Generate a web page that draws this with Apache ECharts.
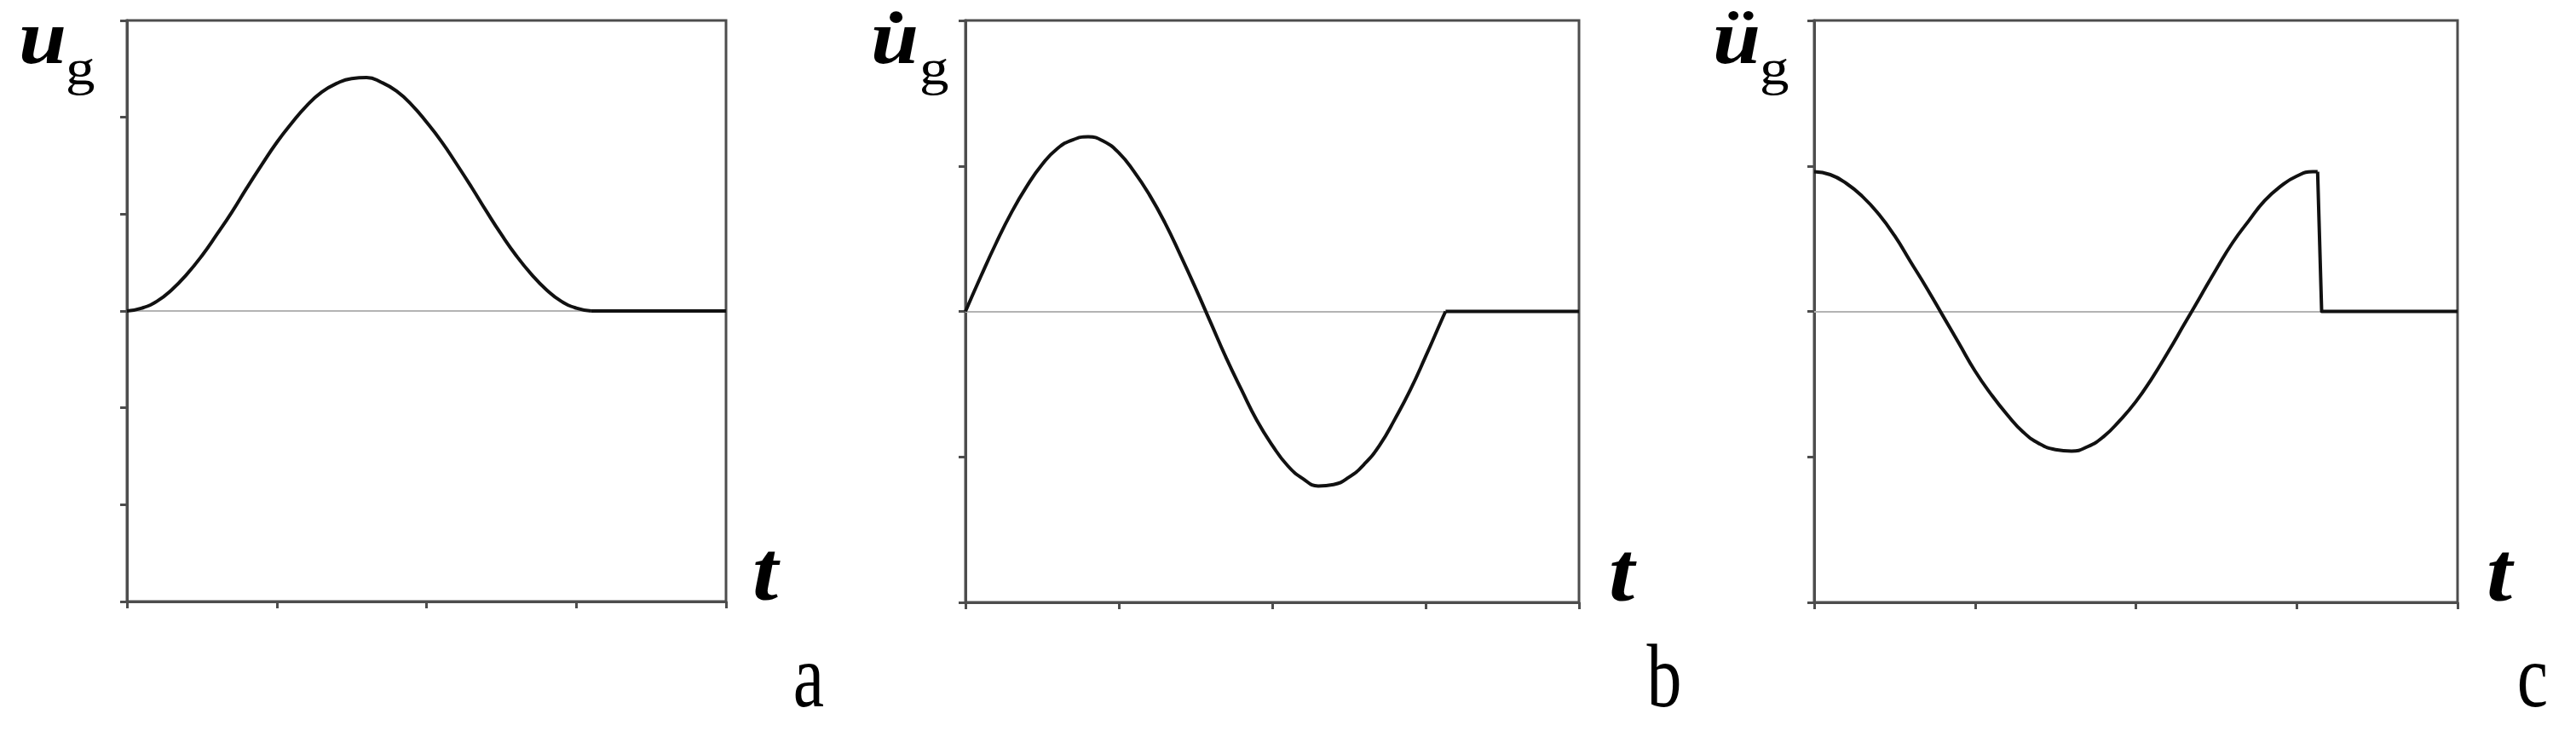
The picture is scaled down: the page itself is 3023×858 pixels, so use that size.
<!DOCTYPE html>
<html>
<head>
<meta charset="utf-8">
<title>u_g, du_g, ddu_g pulse</title>
<script src="https://cdn.jsdelivr.net/npm/echarts@6/dist/echarts.min.js"></script>
<style>
  html, body { margin: 0; padding: 0; background: #fff; }
  #chart { width: 3023px; height: 858px; }
</style>
</head>
<body>
<div id="chart"></div>
<script>
// ---- data ----
// a: displacement
const timeA = [0, 0.1, 0.2, 0.3, 0.4, 0.5, 0.6, 0.7, 0.8, 0.9, 1.0, 1.1, 1.2, 1.3, 1.4, 1.5,
  1.6, 1.7, 1.8, 1.9, 2.0, 2.1, 2.2, 2.3, 2.4, 2.5, 2.6, 2.7, 2.8, 2.9, 3.0, 3.1, 4];
const dispA = [0, 0.03, 0.10, 0.22, 0.38, 0.57, 0.79, 1.02, 1.27, 1.51, 1.74, 1.94, 2.12, 2.26, 2.35, 2.40,
  2.41, 2.36, 2.27, 2.13, 1.95, 1.75, 1.52, 1.28, 1.03, 0.79, 0.57, 0.38, 0.22, 0.10, 0.03, 0, 0];

// b: velocity
const timeB = [0, 0.1, 0.2, 0.3, 0.4, 0.5, 0.6, 0.7, 0.8, 0.9, 1.0, 1.1, 1.2, 1.3, 1.4, 1.5,
  1.6, 1.7, 1.8, 1.9, 2.0, 2.1, 2.2, 2.3, 2.4, 2.5, 2.6, 2.7, 2.8, 2.9, 3.0, 3.1, 3.13, 4];
const velB = [0, 0.24, 0.47, 0.68, 0.86, 1.01, 1.12, 1.18, 1.20, 1.17, 1.09, 0.96, 0.80, 0.61, 0.39, 0.16,
  -0.08, -0.32, -0.54, -0.75, -0.92, -1.06, -1.15, -1.20, -1.19, -1.14, -1.05, -0.92, -0.74, -0.54, -0.31, -0.07, 0, 0];

// c: acceleration
const timeC = [0, 0.1, 0.2, 0.3, 0.4, 0.5, 0.6, 0.7, 0.8, 0.9, 1.0, 1.1, 1.2, 1.3, 1.4, 1.5,
  1.6, 1.7, 1.8, 1.9, 2.0, 2.1, 2.2, 2.3, 2.4, 2.5, 2.6, 2.7, 2.8, 2.9, 3.0, 3.1, 3.13, 3.155, 4];
const accC = [0.96, 0.94, 0.88, 0.79, 0.67, 0.52, 0.34, 0.16, -0.03, -0.22, -0.41, -0.57, -0.71, -0.83, -0.91, -0.95,
  -0.96, -0.93, -0.86, -0.75, -0.62, -0.46, -0.28, -0.09, 0.10, 0.29, 0.47, 0.62, 0.76, 0.86, 0.93, 0.96, 0.96, 0, 0];

// index of the last sample of the smooth pulse; after it the trace is straight
const pulseEnd = [31, 32, 32];

// axis ranges (no tick labels shown)
const xRange = [0, 4];
const yRanges = [[-3, 3], [-2, 2], [-2, 2]];

const yNames = ['u', 'u\u0307', '\u00fc'];
const subName = 'g';
const xName = 't';
const panelNames = ['a', 'b', 'c'];

// ---- layout ----
const panels = [
  { left: 149, top: 24, width: 703, height: 682, uDx: -127, gDx: -72, tDx: 31, letterDx: 97 },
  { left: 1133, top: 24, width: 720, height: 683, uDx: -111, gDx: -54, tDx: 35, letterDx: 100 },
  { left: 2129, top: 24, width: 755, height: 683, uDx: -119, gDx: -64, tDx: 34, letterDx: 88 }
];

const seriesData = [
  timeA.map((t, i) => [t, dispA[i]]),
  timeB.map((t, i) => [t, velB[i]]),
  timeC.map((t, i) => [t, accC[i]])
];

const axisColor = '#4d4d4d';
const curveColor = '#111';
const serif = 'Liberation Serif';

// text is drawn with a "middle" baseline, shift so that y is the alphabetic baseline
function baseY(b, fs) { return b - 0.3 * fs; }

function textEl(text, x, y, fs, weight, style, align, sx) {
  return {
    type: 'text',
    x: x,
    y: baseY(y, fs),
    scaleX: sx || 1,
    silent: true,
    style: {
      text: text,
      x: 0,
      y: 0,
      fontFamily: serif,
      fontSize: fs,
      fontWeight: weight,
      fontStyle: style,
      fill: '#000',
      align: align,
      verticalAlign: 'middle'
    }
  };
}

const chart = echarts.init(document.getElementById('chart'), null, { renderer: 'canvas' });

const grids = [], xAxes = [], yAxes = [], series = [], labels = [];

panels.forEach((p, i) => {
  grids.push({
    left: p.left, top: p.top, width: p.width, height: p.height,
    show: true, borderColor: axisColor, borderWidth: 3, backgroundColor: 'transparent'
  });
  xAxes.push({
    gridIndex: i, type: 'value', min: xRange[0], max: xRange[1], interval: 1,
    axisLine: { show: true, onZero: false, lineStyle: { color: axisColor, width: 3 } },
    axisTick: { show: true, inside: false, length: 8, lineStyle: { color: axisColor, width: 3 } },
    axisLabel: { show: false },
    splitLine: { show: false }
  });
  yAxes.push({
    gridIndex: i, type: 'value', min: yRanges[i][0], max: yRanges[i][1], interval: 1,
    axisLine: { show: true, onZero: false, lineStyle: { color: axisColor, width: 3 } },
    axisTick: { show: true, inside: false, length: 8, lineStyle: { color: axisColor, width: 3 } },
    axisLabel: { show: false },
    splitLine: { show: false }
  });

  // smooth pulse
  series.push({
    type: 'line', xAxisIndex: i, yAxisIndex: i,
    data: seriesData[i].slice(0, pulseEnd[i] + 1),
    showSymbol: false, symbol: 'none',
    smooth: 0.5,
    lineStyle: { color: curveColor, width: 4 },
    z: 3,
    markLine: {
      silent: true, symbol: 'none', z: 1, animation: false,
      label: { show: false },
      lineStyle: { color: '#b3b3b3', width: 2, type: 'solid' },
      data: [{ yAxis: 0 }]
    }
  });
  // straight tail (jump and rest)
  series.push({
    type: 'line', xAxisIndex: i, yAxisIndex: i,
    data: seriesData[i].slice(pulseEnd[i]),
    showSymbol: false, symbol: 'none',
    lineStyle: { color: curveColor, width: 4, join: 'round' },
    z: 3
  });

  const right = p.left + p.width;
  const bottom = p.top + p.height;
  labels.push(textEl(yNames[i], p.left + p.uDx, 78, 90, 'bold', 'italic', 'left', 1.12));
  labels.push(textEl(subName, p.left + p.gDx, 101, 60, 'normal', 'normal', 'left', 1.15));
  labels.push(textEl(xName, right + p.tDx, bottom + 2, 100, 'bold', 'italic', 'left', 1.08));
  labels.push(textEl(panelNames[i], right + p.letterDx, 833, 105, 'normal', 'normal', 'center', 0.78));
});

chart.setOption({
  animation: false,
  backgroundColor: '#fff',
  grid: grids,
  xAxis: xAxes,
  yAxis: yAxes,
  series: series,
  graphic: { elements: labels }
});

window.addEventListener('resize', () => chart.resize());
</script>
</body>
</html>
